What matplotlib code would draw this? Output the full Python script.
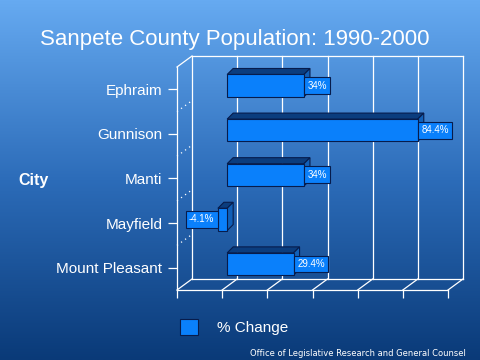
import numpy as np
import matplotlib
matplotlib.use('Agg')
import matplotlib.pyplot as plt
import matplotlib.transforms as mtransforms
from matplotlib.colors import LinearSegmentedColormap
from matplotlib.patches import Polygon, Patch

# Data
cities     = ['Ephraim', 'Gunnison', 'Manti', 'Mayfield', 'Mount Pleasant']
pct_change = [34.0, 84.4, 34.0, -4.1, 29.4]
pct_labels = ['34%', '84.4%', '34%', '-4.1%', '29.4%']
x_ticks    = [-20, 0, 20, 40, 60, 80, 100]

plt.rcParams['font.family'] = ['Liberation Sans', 'DejaVu Sans']

# Colours
c_front = '#0a80fb'
c_top   = '#0b3d7e'
c_side  = '#1160b8'
c_edge  = '#071c4c'
c_grid  = 'white'

fig = plt.figure(figsize=(4.8, 3.6), dpi=100)

# Background gradient ------------------
bg = fig.add_axes([0, 0, 1, 1])
bg_cmap = LinearSegmentedColormap.from_list('bg', ['#66aaf1', '#2c6cb9', '#0a3a78'])
bg.imshow(np.linspace(0, 1, 256).reshape(-1, 1), aspect='auto', cmap=bg_cmap,
          extent=[0, 1, 0, 1], zorder=0)
bg.set_axis_off()

# Front plane of the 3D box ------------
ax = fig.add_axes([177/480, 70/360, 271/480, 223/360])
ax.patch.set_visible(False)
for sp in ax.spines.values():
    sp.set_visible(False)
ax.set_xlim(-20, 100)
ax.set_ylim(4.5, -0.5)
ax.set_xticks(x_ticks)
ax.set_xticklabels([])
ax.set_yticks(range(len(cities)))
ax.set_yticklabels(cities, fontsize=11, color='white')
ax.tick_params(axis='y', length=6.5, width=0.9, color=c_grid, pad=4)
ax.tick_params(axis='x', length=6, width=0.9, color=c_grid)

# depth direction (pixels, display coords)
DPX, DPY = 15.0, 11.0

def depth(f):
    return ax.transData + mtransforms.ScaledTranslation(f*DPX/100, f*DPY/100, fig.dpi_scale_trans)

def proj(x, y, f, dx=DPX, dy=DPY):
    p = ax.transData.transform((x, y))
    return (p[0] + f*dx, p[1] + f*dy)

ident = mtransforms.IdentityTransform()
lw = 0.9

def seg(p0, p1, **kw):
    ax.add_line(plt.Line2D([p0[0], p1[0]], [p0[1], p1[1]], transform=ident,
                           color=c_grid, lw=lw, clip_on=False, **kw))

ymin, ymax = -0.5, 4.5
# back wall
for x in x_ticks:
    ax.plot([x, x], [ymin, ymax], color=c_grid, lw=lw, transform=depth(1), clip_on=False)
ax.plot([x_ticks[0], x_ticks[-1]], [ymin, ymin], color=c_grid, lw=lw, transform=depth(1), clip_on=False)
ax.plot([x_ticks[0], x_ticks[-1]], [ymax, ymax], color=c_grid, lw=lw, transform=depth(1), clip_on=False)
# floor
ax.plot([x_ticks[0], x_ticks[-1]], [ymax, ymax], color=c_grid, lw=lw, clip_on=False)
for x in x_ticks:
    seg(proj(x, ymax, 0), proj(x, ymax, 1))
# left wall
ax.plot([x_ticks[0], x_ticks[0]], [ymin, ymax], color=c_grid, lw=lw, clip_on=False)
seg(proj(x_ticks[0], ymin, 0), proj(x_ticks[0], ymin, 1))
for yb in np.arange(0.5, len(cities) - 0.5, 1.0):
    seg(proj(x_ticks[0], yb, 0), proj(x_ticks[0], yb, 1), linestyle=(0, (1, 3)))

# Bars ---------------------------------
f0 = 1/3
bdx, bdy = 6.0, 6.0   # bar depth in pixels
bh = 0.5

def bproj(x, y, back):
    p = proj(x, y, f0)
    return (p[0] + back*bdx, p[1] + back*bdy)

for i, v in enumerate(pct_change):
    top, bot = i - bh/2, i + bh/2
    xr = max(v, 0)
    top_face = [bproj(0, top, 0), bproj(v, top, 0), bproj(v, top, 1), bproj(0, top, 1)]
    side_face = [bproj(xr, top, 0), bproj(xr, bot, 0), bproj(xr, bot, 1), bproj(xr, top, 1)]
    ax.add_patch(Polygon(top_face, closed=True, fc=c_top, ec=c_edge, lw=0.8,
                         transform=ident, clip_on=False, zorder=3))
    ax.add_patch(Polygon(side_face, closed=True, fc=c_side, ec=c_edge, lw=0.8,
                         transform=ident, clip_on=False, zorder=3))
ax.barh(range(len(cities)), pct_change, height=bh, color=c_front, edgecolor=c_edge,
        linewidth=0.8, transform=depth(f0), clip_on=False, zorder=4)

# Value labels
for i, (v, lab) in enumerate(zip(pct_change, pct_labels)):
    off = 2.6 if v >= 0 else -2.6
    ax.annotate(lab, xy=(v, i), xycoords=depth(f0), xytext=(off, 0),
                textcoords='offset points', ha='left' if v >= 0 else 'right',
                va='center', fontsize=7, color='white', zorder=6,
                bbox=dict(boxstyle='square,pad=0.35', fc=c_front, ec=c_edge, lw=0.8))

# Titles -------------------------------
fig.text(0.49, 1 - 40/360, 'Sanpete County Population: 1990-2000', ha='center',
         va='center', fontsize=16, color='white')
fig.text(18/480, 1 - 180/360, 'City', ha='left', va='center', fontsize=11.5,
         fontweight='bold', color='white')
fig.text(466/480, 1 - 353/360, 'Office of Legislative Research and General Counsel',
         ha='right', va='center', fontsize=6.0, color='white', family='DejaVu Sans')

# Legend
fig.legend(handles=[Patch(fc=c_front, ec=c_edge, lw=0.8)], labels=['% Change'],
           loc='center left', bbox_to_anchor=(180/480, 1 - 327/360), frameon=False,
           borderpad=0, borderaxespad=0, handlelength=1.2, handleheight=1.3,
           handletextpad=1.25, fontsize=11, labelcolor='white')

fig.savefig('out.png', dpi=100)
